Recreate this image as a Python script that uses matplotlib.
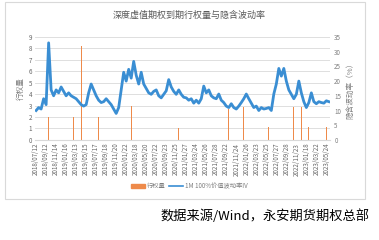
import numpy as np
import matplotlib
matplotlib.use("Agg")
import matplotlib.pyplot as plt
from matplotlib.patches import Rectangle, Patch
from matplotlib.lines import Line2D

plt.rcParams['font.family'] = ['Noto Sans CJK SC', 'DejaVu Sans']

# implied vol, one value per sample (right axis, %)
iv = [10, 11, 10.5, 14, 12, 33, 17, 15, 17, 16,
      18, 16.5, 15, 16, 15, 14.5, 14, 13, 12, 11.5,
      12, 16, 19, 17, 15, 13.5, 12.7, 13, 14, 13,
      12, 10.5, 9, 11, 17, 23, 20, 24, 21, 26.7,
      22, 19, 23, 19, 17.5, 16, 15.5, 16.5, 17, 15,
      14.3, 15.5, 16.7, 20.5, 18, 16.5, 15.5, 17, 15.5, 14.5,
      14.3, 13.5, 14, 12.5, 13.5, 12.5, 14, 18.3, 16, 17,
      15, 14.3, 14, 15.6, 13.5, 12.7, 11.5, 11, 12.3, 11,
      10.5, 11.5, 12.7, 14, 15.6, 14, 12.5, 11, 11.5, 10,
      11, 10.5, 10.7, 11, 10, 15.6, 19, 24.3, 21.7, 24.3,
      20, 17, 15.5, 14, 15.5, 20, 16, 13, 11, 12.7,
      16, 13, 12.3, 13, 12.7, 12.5, 13.3, 13]

# exercise volume at expiry (left axis), sample index -> value
ex_idx = [5, 15, 18, 25, 38, 57, 77, 83, 93, 103, 106, 109, 116]
ex_vol = [2.0, 2.0, 8.2, 2.0, 3.0, 1.0, 2.7, 2.9, 1.1, 2.9, 2.9, 1.1, 1.1]

tick_labels = ["2018/07/12", "2018/09/12", "2018/11/14", "2019/01/16", "2019/03/13",
               "2019/05/15", "2019/07/17", "2019/09/18", "2019/11/20", "2020/01/22",
               "2020/03/18", "2020/05/20", "2020/07/22", "2020/09/23", "2020/11/25",
               "2021/01/27", "2021/03/24", "2021/05/26", "2021/07/28", "2021/09/22",
               "2021/11/24", "2022/01/26", "2022/03/23", "2022/05/25", "2022/07/27",
               "2022/09/28", "2022/11/23", "2023/01/18", "2023/03/22", "2023/05/24"]

ORANGE = "#EE8A4A"
BLUE = "#3A8ED3"
GREY = "#7f7f7f"

fig = plt.figure(figsize=(3.79, 2.40), dpi=100)
fig.patches.append(Rectangle((0.013, 0.17), 0.95, 0.82, transform=fig.transFigure,
                             fill=False, edgecolor="#d9d9d9", linewidth=0.8))

ax = fig.add_axes([0.092, 0.417, 0.779, 0.429])
x = np.arange(len(iv))
ax.bar(ex_idx, ex_vol, width=0.4, color=ORANGE, zorder=2)
ax.set_ylim(0, 9)
ax.set_yticks(range(10))
ax.set_xlim(-0.5, len(iv) - 0.5)
ax.grid(axis="y", color="#d9d9d9", linewidth=0.6)
ax.set_axisbelow(True)
for s in ["top", "right", "left"]:
    ax.spines[s].set_visible(False)
ax.spines["bottom"].set_color("#d9d9d9")
ax.tick_params(axis="both", length=0, labelsize=4.5, colors="#666666", pad=2)
ax.set_xticks(np.arange(0, len(iv), 4))
ax.set_xticklabels(tick_labels, rotation=90)
ax.set_ylabel("行权量", fontsize=5.5, color=GREY, labelpad=3)

ax2 = ax.twinx()
ax2.plot(x, iv, color=BLUE, linewidth=2.0, zorder=3)
ax2.set_ylim(0, 35)
ax2.set_yticks(range(0, 36, 5))
for s in ax2.spines.values():
    s.set_visible(False)
ax2.tick_params(axis="y", length=0, labelsize=4.5, colors=GREY, pad=3)
ax2.set_ylabel("隐含波动率（%）", fontsize=5.5, color=GREY, labelpad=4)

fig.text(0.5, 0.935, "深度虚值期权到期行权量与隐含波动率", ha="center", va="center",
         fontsize=6.5, color="#595959")

handles = [Patch(color=ORANGE), Line2D([], [], color=BLUE, linewidth=1.2)]
fig.legend(handles, ["行权量", "1M 100%价值波动率IV"], loc="center",
           bbox_to_anchor=(0.5, 0.225), ncol=2, frameon=False, fontsize=4.5,
           handlelength=2.2, handleheight=0.7, columnspacing=0.6, handletextpad=0.3,
           labelcolor=GREY)

fig.text(0.975, 0.1, "数据来源/Wind，永安期货期权总部", ha="right", va="center",
         fontsize=9.5, color="black", fontweight="medium")

fig.savefig("out.png", dpi=100)
